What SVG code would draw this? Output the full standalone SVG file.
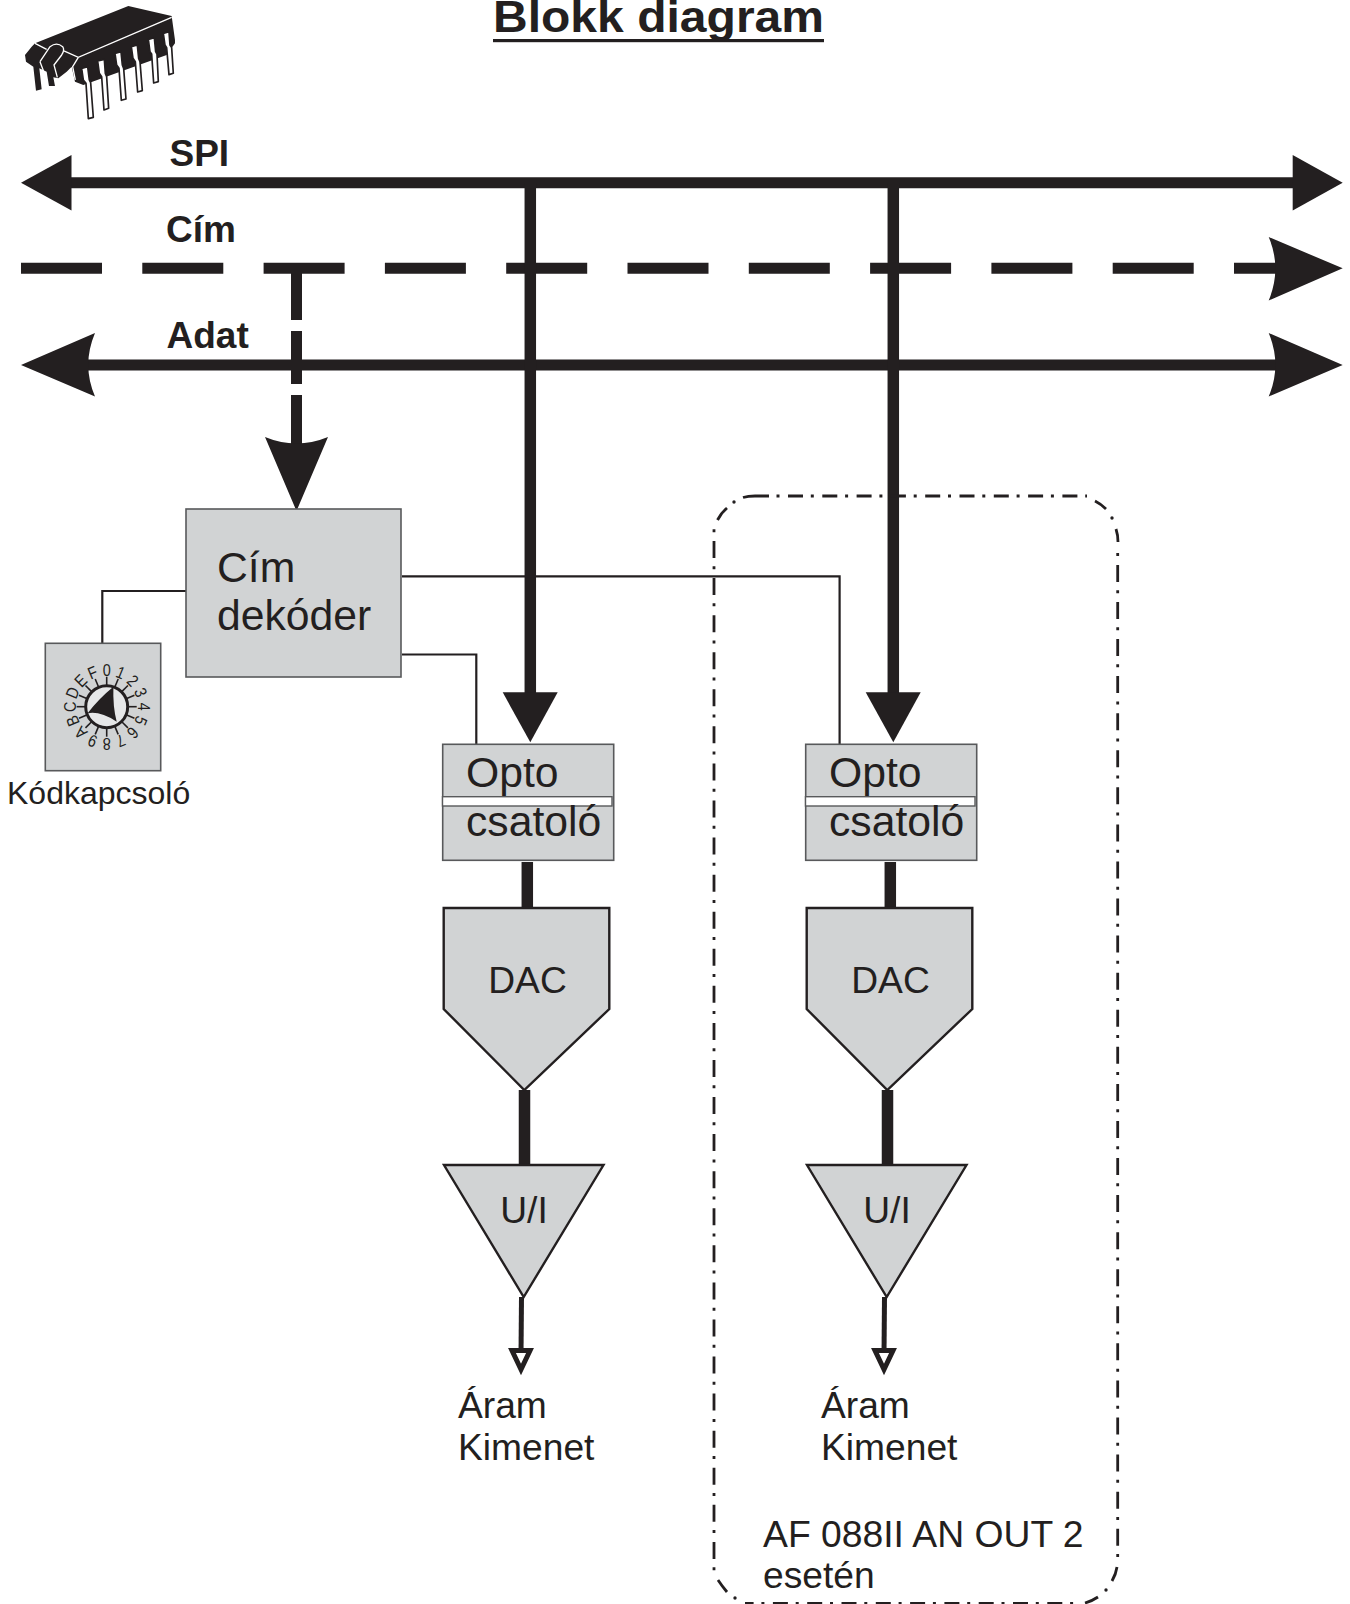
<svg xmlns="http://www.w3.org/2000/svg" width="1350" height="1604" viewBox="0 0 1350 1604">
<style>
text{font-family:"Liberation Sans",Arial,sans-serif;fill:#231f20}
.b{font-weight:bold;font-size:37px}
.l{font-size:42.7px}
.m{font-size:37.2px}
.box{fill:#d1d3d4;stroke:#58595b;stroke-width:1.6}
.shape{fill:#d1d3d4;stroke:#231f20;stroke-width:2.4;stroke-linejoin:miter}
.ah{fill:#231f20;stroke:none}
.bus{stroke:#231f20;stroke-width:11;fill:none}
.thick{stroke:#231f20;stroke-width:11.5;fill:none}
.thin{stroke:#231f20;stroke-width:2.2;fill:none}
.dig{font-size:17px;text-anchor:middle}
.tick{stroke:#231f20;stroke-width:1.6}
.fr{fill:none;stroke:#231f20;stroke-width:2.8}
.frd{fill:#231f20}
</style>
<defs>
<g id="digit-tick"><line class="tick" x1="0" y1="-21" x2="0" y2="-30"/></g>
</defs>

<text id="title" x="493" y="32" font-size="44.5" font-weight="bold" textLength="331" lengthAdjust="spacingAndGlyphs">Blokk diagram</text>
<rect x="493" y="39" width="331" height="3.200" fill="#231f20"/>

<g id="chip" transform="scale(0.3333)">
<path fill="#231f20" d="M75 165 L95 140 L105 130 L385 18 L515 48 L525 120 L525 130 L500 165 L250 255 L225 245 L215 200 L200 215 L175 235 L160 232 L165 258 L147 258 L140 215 L118 205 L125 268 L108 272 L100 200 L78 185Z"/>
<path fill="none" stroke="#fff" stroke-width="4" d="M105 130 L140 148 M190 152 L235 172 L515 52 M235 172 L218 200 L226 240 M120 185 L150 140 Q170 125 188 140 Q195 150 185 165 L162 195 L172 232 M120 185 L135 225"/>
<g fill="#fff" stroke="#231f20" stroke-width="5" stroke-linejoin="round">
<path d="M245 205 L263 200 L268 240 L272 248 L280 352 L265 356 L258 250 L250 240Z"/>
<path d="M293 183 L313 178 L316 220 L320 230 L326 325 L312 330 L305 230 L298 220Z"/>
<path d="M345 160 L363 155 L367 195 L371 205 L378 297 L364 301 L357 205 L350 195Z"/>
<path d="M394 140 L412 135 L416 175 L420 185 L427 272 L413 276 L406 185 L399 175Z"/>
<path d="M445 118 L463 113 L467 155 L471 162 L475 245 L461 249 L455 162 L450 155Z"/>
<path d="M490 100 L507 95 L510 135 L515 143 L520 220 L507 224 L500 143 L495 135Z"/>
</g>
</g>

<g id="connectors">
<line class="bus" x1="70" y1="182.700" x2="1293" y2="182.700"/>
<path class="ah" d="M21 182.700 L71.500 155 V210.500Z"/>
<path class="ah" d="M1342.700 182.700 L1292.700 155 V210.500Z"/>
<line class="bus" x1="21" y1="268.300" x2="1280" y2="268.300" stroke-dasharray="81 40.300"/>
<path class="ah" d="M1342.700 268.300 L1268.700 237 Q1282 268.300 1268.700 300.500Z"/>
<line class="bus" x1="85" y1="365" x2="1280" y2="365"/>
<path class="ah" d="M21 365 L95 333 Q81.500 365 95 396.500Z"/>
<path class="ah" d="M1342.700 365 L1268.700 333 Q1282 365 1268.700 396.500Z"/>
<line class="bus" x1="296.500" y1="273" x2="296.500" y2="320"/>
<line class="bus" x1="296.500" y1="331" x2="296.500" y2="384"/>
<line class="bus" x1="296.500" y1="395" x2="296.500" y2="450"/>
<path class="ah" d="M296.500 511 L265 437 Q296.500 450 328 437Z"/>
<line class="thick" x1="530.300" y1="183" x2="530.300" y2="695"/>
<path class="ah" d="M530.300 742.300 L502.700 692.300 H557.700Z"/>
<line class="thick" x1="893.300" y1="183" x2="893.300" y2="695"/>
<path class="ah" d="M893.300 742.300 L865.700 692.300 H920.700Z"/>
<path class="thin" d="M186 591 H102.300 V643"/>
<path class="thin" d="M402 576.300 H839.600 V746"/>
<path class="thin" d="M402 654.500 H476.300 V746"/>
<line class="thick" x1="527.300" y1="862" x2="527.300" y2="908"/>
<line class="thick" x1="524.500" y1="1090" x2="524.500" y2="1165"/>
<line x1="521.500" y1="1297" x2="521" y2="1355" stroke="#231f20" stroke-width="5"/>
<path d="M512 1350.500 H530 L521 1369.500Z" fill="#fff" stroke="#231f20" stroke-width="5"/>
<line class="thick" x1="890.300" y1="862" x2="890.300" y2="908"/>
<line class="thick" x1="887.500" y1="1090" x2="887.500" y2="1165"/>
<line x1="884.500" y1="1297" x2="884" y2="1355" stroke="#231f20" stroke-width="5"/>
<path d="M875 1350.500 H893 L884 1369.500Z" fill="#fff" stroke="#231f20" stroke-width="5"/>
</g>

<text class="b" x="169.500" y="166">SPI</text>
<text class="b" x="166" y="242">Cím</text>
<text class="b" x="166.500" y="348">Adat</text>

<g id="decoder">
<rect class="box" x="186" y="509" width="215" height="168"/>
<text class="l" x="217" y="582">Cím</text>
<text class="l" x="217" y="630">dekóder</text>
</g>

<g id="switch">
<rect class="box" x="45.300" y="643.300" width="115.400" height="127.400"/>
<g transform="translate(106.700 706.700)">
<use href="#digit-tick"/><use href="#digit-tick" transform="rotate(22.5)"/><use href="#digit-tick" transform="rotate(45)"/><use href="#digit-tick" transform="rotate(67.5)"/><use href="#digit-tick" transform="rotate(90)"/><use href="#digit-tick" transform="rotate(112.5)"/><use href="#digit-tick" transform="rotate(135)"/><use href="#digit-tick" transform="rotate(157.5)"/><use href="#digit-tick" transform="rotate(180)"/><use href="#digit-tick" transform="rotate(202.5)"/><use href="#digit-tick" transform="rotate(225)"/><use href="#digit-tick" transform="rotate(247.5)"/><use href="#digit-tick" transform="rotate(270)"/><use href="#digit-tick" transform="rotate(292.5)"/><use href="#digit-tick" transform="rotate(315)"/><use href="#digit-tick" transform="rotate(337.5)"/>
<circle r="21" fill="#e6e7e8" stroke="#231f20" stroke-width="3"/>
<path d="M6.700 -20 Q6 0 10 15 Q-7 4 -19.300 6.700 Q-8 -8 6.700 -20Z" fill="#231f20"/>
<text class="dig" transform="translate(0 -31) scale(.85 1)">0</text>
<text class="dig" transform="rotate(22.5) translate(0 -31) scale(.85 1)">1</text>
<text class="dig" transform="rotate(45) translate(0 -31) scale(.85 1)">2</text>
<text class="dig" transform="rotate(67.5) translate(0 -31) scale(.85 1)">3</text>
<text class="dig" transform="rotate(90) translate(0 -31) scale(.85 1)">4</text>
<text class="dig" transform="rotate(112.5) translate(0 -31) scale(.85 1)">5</text>
<text class="dig" transform="rotate(135) translate(0 -31) scale(.85 1)">6</text>
<text class="dig" transform="rotate(157.5) translate(0 -31) scale(.85 1)">7</text>
<text class="dig" transform="rotate(180) translate(0 -31) scale(.85 1)">8</text>
<text class="dig" transform="rotate(202.5) translate(0 -31) scale(.85 1)">9</text>
<text class="dig" transform="rotate(225) translate(0 -31) scale(.85 1)">A</text>
<text class="dig" transform="rotate(247.5) translate(0 -31) scale(.85 1)">B</text>
<text class="dig" transform="rotate(270) translate(0 -31) scale(.85 1)">C</text>
<text class="dig" transform="rotate(292.5) translate(0 -31) scale(.85 1)">D</text>
<text class="dig" transform="rotate(315) translate(0 -31) scale(.85 1)">E</text>
<text class="dig" transform="rotate(337.5) translate(0 -31) scale(.85 1)">F</text>
</g>
<text x="7" y="804" font-size="32">Kódkapcsoló</text>
</g>

<g id="opto1">
<rect class="box" x="442.700" y="744.300" width="171" height="116"/>
<rect x="442.500" y="796.700" width="169.500" height="9.300" fill="#fff" stroke="#58595b" stroke-width="1.400"/>
<text class="l" x="466" y="787">Opto</text>
<text class="l" x="466" y="835.500">csatoló</text>
</g>
<g id="dac1">
<path class="shape" d="M443.700 908 H609.300 V1009 L524.300 1090 L443.700 1009Z"/>
<text class="m" x="527.500" y="993" text-anchor="middle">DAC</text>
</g>
<g id="ui1">
<path class="shape" d="M444 1165 H603.500 L523.700 1297Z"/>
<text class="m" x="524" y="1223" text-anchor="middle">U/I</text>
</g>
<text id="out1" class="m"><tspan x="458" y="1418">Áram</tspan><tspan x="458" y="1460">Kimenet</tspan></text>

<g id="opto2">
<rect class="box" x="805.700" y="744.300" width="171" height="116"/>
<rect x="805.500" y="796.700" width="169.500" height="9.300" fill="#fff" stroke="#58595b" stroke-width="1.400"/>
<text class="l" x="829" y="787">Opto</text>
<text class="l" x="829" y="835.500">csatoló</text>
</g>
<g id="dac2">
<path class="shape" d="M806.700 908 H972.300 V1009 L887.300 1090 L806.700 1009Z"/>
<text class="m" x="890.500" y="993" text-anchor="middle">DAC</text>
</g>
<g id="ui2">
<path class="shape" d="M807 1165 H966.500 L886.700 1297Z"/>
<text class="m" x="887" y="1223" text-anchor="middle">U/I</text>
</g>
<text id="out2" class="m"><tspan x="821" y="1418">Áram</tspan><tspan x="821" y="1460">Kimenet</tspan></text>

<g id="option-frame">
<path class="fr" stroke-dasharray="3 8.500 15 7.800" d="M776.500 496 H1087"/>
<path class="fr" d="M743 497.500 Q748 496 755 496 H769"/>
<path class="fr" stroke-dasharray="3 8.800 17 8.270" d="M714 529.200 V1570.500"/>
<path class="fr" stroke-dasharray="3 8.800 17 8.270" d="M1117.700 553.100 V1557"/>
<path class="fr" stroke-dasharray="15 7.800 3 8.500" stroke-dashoffset="6.400" d="M745 1603.500 H1078"/>
<path class="fr" d="M717.500 520 Q721 513 727 508 M718 1580 Q722 1586 727 1592 M1117 1567 Q1116 1574 1112 1581 M1098 1597 Q1092 1601 1085 1603 M1095 501 Q1101 504 1106 509 M1116 529 Q1118 535 1118 542"/>
<circle class="frd" cx="734" cy="502" r="1.700"/><circle class="frd" cx="735" cy="1598" r="1.700"/><circle class="frd" cx="1106" cy="1590" r="1.700"/><circle class="frd" cx="1112" cy="518" r="1.700"/>
<text class="m"><tspan x="763" y="1547" font-size="37.300">AF 088II AN OUT 2</tspan><tspan x="763" y="1588">esetén</tspan></text>
</g>
</svg>
